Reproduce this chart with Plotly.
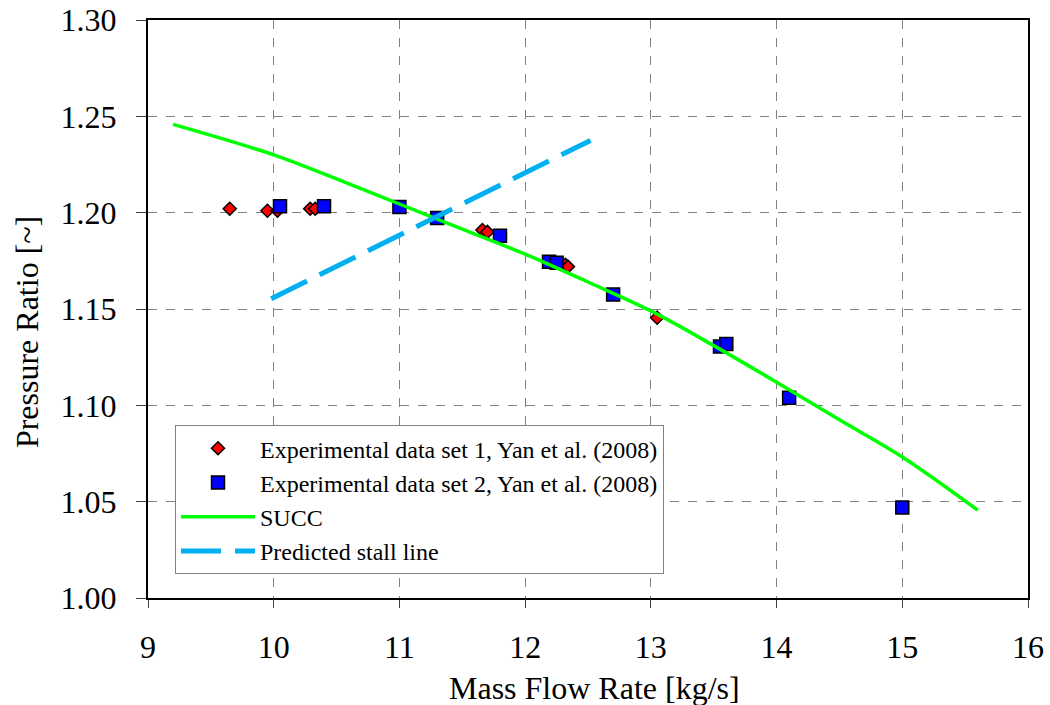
import plotly.graph_objects as go

set1_x = [9.65, 9.95, 10.03, 10.29, 10.33, 11.66, 11.70, 12.32, 12.34, 13.05]
set1_y = [1.202, 1.201, 1.201, 1.202, 1.202, 1.191, 1.190, 1.173, 1.172, 1.1455]

set2_x = [10.05, 10.40, 11.00, 11.30, 11.80, 12.19, 12.25, 12.70, 13.55, 13.60, 14.10, 15.00]
set2_y = [1.2033, 1.2033, 1.2030, 1.1972, 1.1880, 1.1745, 1.1740, 1.1575, 1.1305, 1.1318, 1.1040, 1.0470]

succ_x = [9.2, 10.0, 10.5, 11.0, 11.5, 12.0, 12.5, 13.0, 13.5, 14.0, 14.5, 15.0, 15.6]
succ_y = [1.2458, 1.2300, 1.2175, 1.2045, 1.1915, 1.1785, 1.1640, 1.1490, 1.1310, 1.1120, 1.0925, 1.0732, 1.0456]

stall_x = [9.98, 12.52]
stall_y = [1.1553, 1.2375]

x_ticks = [9, 10, 11, 12, 13, 14, 15, 16]
y_ticks = [1.00, 1.05, 1.10, 1.15, 1.20, 1.25, 1.30]

x_title = "Mass Flow Rate [kg/s]"
y_title = "Pressure Ratio [~]"

FONT = "Liberation Serif, Times New Roman, serif"

fig = go.Figure()
fig.add_trace(go.Scatter(
    x=set1_x, y=set1_y, mode="markers",
    name="Experimental data set 1, Yan et al. (2008)",
    marker=dict(symbol="diamond", size=10, color="#FF0000",
                line=dict(color="black", width=1.5)),
))
fig.add_trace(go.Scatter(
    x=set2_x, y=set2_y, mode="markers",
    name="Experimental data set 2, Yan et al. (2008)",
    marker=dict(symbol="square", size=13, color="#0000FF",
                line=dict(color="black", width=1.5)),
))
fig.add_trace(go.Scatter(
    x=succ_x, y=succ_y, mode="lines", name="SUCC",
    line=dict(color="#00FF00", width=3.5, shape="spline"),
))
fig.add_trace(go.Scatter(
    x=stall_x, y=stall_y, mode="lines", name="Predicted stall line",
    line=dict(color="#00B0F0", width=5, dash="40px,14px"),
))

fig.update_layout(
    width=1050, height=705,
    margin=dict(l=148, r=22, t=20, b=107, autoexpand=False),
    paper_bgcolor="white", plot_bgcolor="white",
    font=dict(family=FONT, size=32, color="black"),
    showlegend=True,
    legend=dict(
        x=0.0307, y=0.299, xanchor="left", yanchor="top",
        bgcolor="white", bordercolor="#808080", borderwidth=1,
        font=dict(family=FONT, size=24, color="black"),
        itemwidth=74, tracegroupgap=0,
    ),
    xaxis=dict(
        range=[9, 16], tickvals=x_ticks, ticktext=[str(v) for v in x_ticks],
        showgrid=True, gridcolor="#808080", gridwidth=1, griddash="dash",
        showline=True, linecolor="black", linewidth=2, mirror=True,
        ticks="outside", ticklen=8, tickcolor="#404040", ticklabelstandoff=12,
        zeroline=False, automargin=False,
        tickfont=dict(family=FONT, size=32),
    ),
    yaxis=dict(
        range=[1.0, 1.3], tickvals=y_ticks, ticktext=[f"{v:.2f}" for v in y_ticks],
        showgrid=True, gridcolor="#808080", gridwidth=1, griddash="dash",
        showline=True, linecolor="black", linewidth=2, mirror=True,
        ticks="outside", ticklen=10, tickcolor="#404040", ticklabelstandoff=13,
        zeroline=False, automargin=False,
        tickfont=dict(family=FONT, size=32),
    ),
    annotations=[
        dict(text=x_title, xref="paper", yref="paper", x=0.507, y=-0.1557,
             xanchor="center", yanchor="middle", showarrow=False,
             font=dict(family=FONT, size=32, color="black")),
        dict(text=y_title, xref="paper", yref="paper", x=-0.1375, y=0.460,
             xanchor="center", yanchor="middle", showarrow=False, textangle=-90,
             font=dict(family=FONT, size=32, color="black")),
    ],
)

fig.write_html("out.html", post_script="document.body.style.margin='0';",
               config={"displayModeBar": False})
